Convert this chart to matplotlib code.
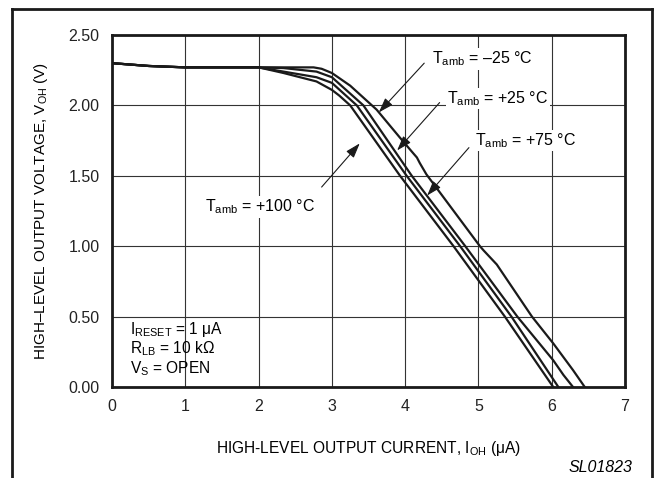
import numpy as np
import matplotlib
matplotlib.use("Agg")
import matplotlib.pyplot as plt
from matplotlib.lines import Line2D

plt.rcParams['font.family'] = ['Liberation Sans', 'DejaVu Sans']
plt.rcParams['mathtext.fontset'] = 'custom'
plt.rcParams['mathtext.rm'] = 'Liberation Sans'
plt.rcParams['mathtext.it'] = 'Liberation Sans:italic'
plt.rcParams['mathtext.bf'] = 'Liberation Sans:bold'

# Datos (I_OH en uA, V_OH en V)
x_m25 = [0, 0.5, 1.0, 2.0, 2.75, 2.86, 3.0, 3.25, 3.61, 3.93, 4.11, 4.16, 4.2, 4.29,
         5.02, 5.07, 5.25, 5.73, 6.02, 6.29, 6.45]
v_m25 = [2.30, 2.28, 2.27, 2.27, 2.27, 2.26, 2.23, 2.14, 1.97, 1.77, 1.66, 1.63, 1.59, 1.51,
         1.00, 0.97, 0.87, 0.50, 0.31, 0.12, 0.00]

x_p25 = [0, 0.5, 1.0, 2.0, 2.34, 2.79, 3.0, 3.43, 4.09, 4.82, 5.53, 6.02, 6.16, 6.29]
v_p25 = [2.30, 2.28, 2.27, 2.27, 2.265, 2.24, 2.20, 2.00, 1.50, 1.00, 0.50, 0.19, 0.085, 0.00]

x_p75 = [0, 0.5, 1.0, 2.0, 2.34, 2.79, 3.0, 3.34, 4.02, 4.75, 5.45, 6.09]
v_p75 = [2.30, 2.28, 2.27, 2.27, 2.24, 2.20, 2.16, 2.00, 1.50, 1.00, 0.50, 0.00]

x_p100 = [0, 0.5, 1.0, 2.0, 2.34, 2.79, 3.0, 3.1, 3.25, 3.93, 4.66, 5.36, 6.02]
v_p100 = [2.30, 2.28, 2.27, 2.27, 2.23, 2.17, 2.11, 2.07, 2.00, 1.50, 1.00, 0.50, 0.00]

x_ticks = [0, 1, 2, 3, 4, 5, 6, 7]
y_ticks = [0.0, 0.5, 1.0, 1.5, 2.0, 2.5]
y_ticklabels = ['0.00', '0.50', '1.00', '1.50', '2.00', '2.50']

fig = plt.figure(figsize=(6.54, 4.78), dpi=100)
ax = fig.add_axes([0.1713, 0.1904, 0.7844, 0.7364])

for x, v in [(x_m25, v_m25), (x_p25, v_p25), (x_p75, v_p75), (x_p100, v_p100)]:
    ax.plot(x, v, color='#1a1a1a', lw=1.6, solid_joinstyle='round', zorder=3)

ax.set_xlim(0, 7)
ax.set_ylim(0, 2.5)
ax.set_xticks(x_ticks)
ax.set_yticks(y_ticks)
ax.set_yticklabels(y_ticklabels)
ax.grid(True, color='#333333', lw=0.8)
ax.tick_params(length=0, pad=9, labelsize=11.5, colors='#222222')
for s in ax.spines.values():
    s.set_linewidth(2)
    s.set_color('#1a1a1a')

ax.set_xlabel(r'HIGH-LEVEL OUTPUT CURRENT, I$_{\mathrm{OH}}$ ($\mathrm{\mu}$A)',
              fontsize=11.2, labelpad=18)
ax.set_ylabel(r'HIGH–LEVEL OUTPUT VOLTAGE, V$_{\mathrm{OH}}$ (V)', fontsize=11, labelpad=13)

# Etiquetas de temperatura con flechas
caja = dict(fc='white', ec='none', pad=1)
flecha = dict(arrowstyle='-|>,head_length=0.9,head_width=0.3', color='#1a1a1a',
              lw=0.8, shrinkA=0, shrinkB=0)
etiquetas = [
    (r'T$_{\mathrm{amb}}$ = –25 °C', (4.37, 2.33), (4.26, 2.30), (3.64, 1.95)),
    (r'T$_{\mathrm{amb}}$ = +25 °C', (4.57, 2.05), (4.47, 2.02), (3.89, 1.68)),
    (r'T$_{\mathrm{amb}}$ = +75 °C', (4.95, 1.75), (4.87, 1.70), (4.30, 1.36)),
    (r'T$_{\mathrm{amb}}$ = +100 °C', (1.27, 1.28), (2.86, 1.42), (3.38, 1.73)),
]
for txt, pos, ini, tip in etiquetas:
    ax.annotate('', xy=tip, xytext=ini, arrowprops=flecha, zorder=4)
    ax.text(pos[0], pos[1], txt, fontsize=11.5, va='center', ha='left', bbox=caja, zorder=5)

ax.text(0.245, 0.41, r'I$_{\mathrm{RESET}}$ = 1 $\mathrm{\mu}$A', fontsize=11.2, va='center')
ax.text(0.245, 0.27, r'R$_{\mathrm{LB}}$ = 10 kΩ', fontsize=11.2, va='center')
ax.text(0.245, 0.13, r'V$_{\mathrm{S}}$ = OPEN', fontsize=11.2, va='center')

fig.text(632 / 654, 1 - 468 / 478, 'SL01823', fontsize=11.5, style='italic',
         ha='right', va='center')

# Marco exterior
fx0, fx1, fy1 = 12 / 654, 652 / 654, 1 - 9 / 478
fig.add_artist(Line2D([fx0, fx0], [0, fy1], transform=fig.transFigure, color='#1a1a1a', lw=2))
fig.add_artist(Line2D([fx1, fx1], [0, fy1], transform=fig.transFigure, color='#1a1a1a', lw=2))
fig.add_artist(Line2D([fx0, fx1], [fy1, fy1], transform=fig.transFigure, color='#1a1a1a', lw=2))

fig.savefig('out.png', dpi=100)
